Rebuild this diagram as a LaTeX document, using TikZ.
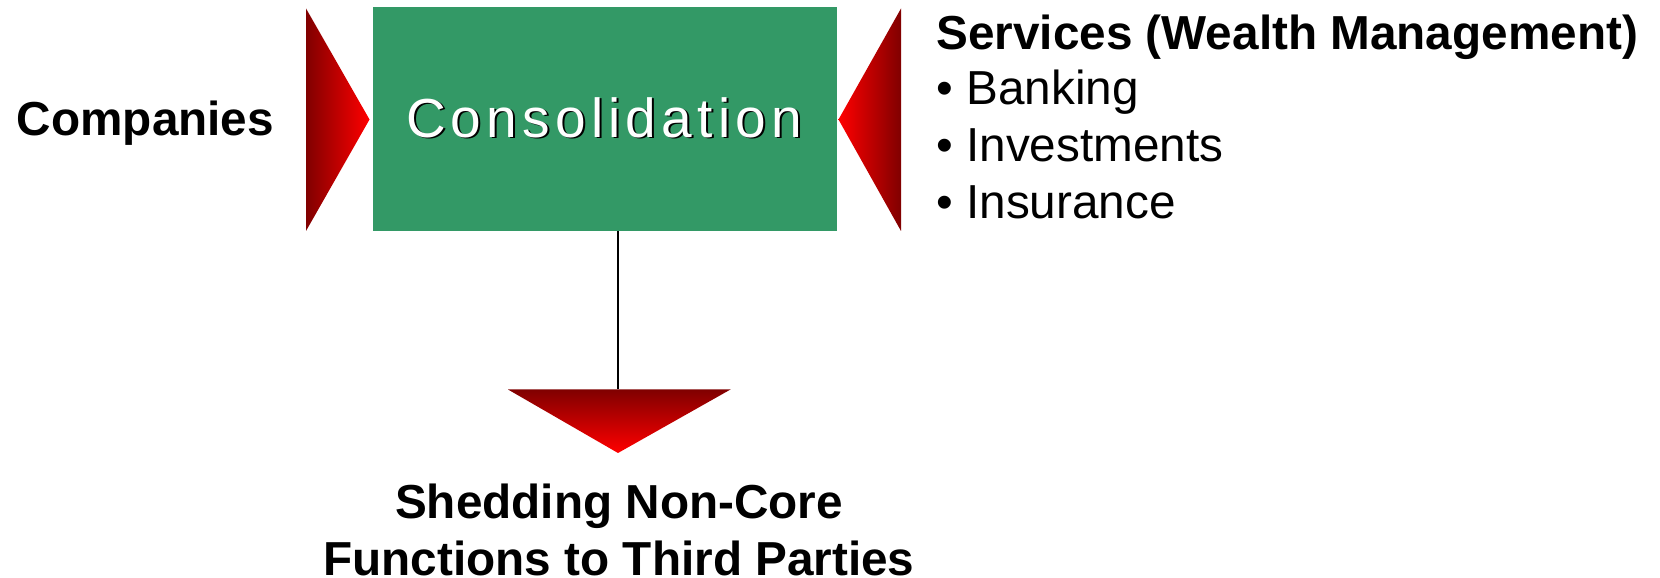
\documentclass[tikz,border=0pt]{standalone}
\usepackage{fontspec}
\setmainfont{Liberation Sans}
\newfontfamily\consfont[LetterSpace=9.5]{Liberation Sans}
\definecolor{boxgreen}{RGB}{51,153,102}
\definecolor{darkred}{RGB}{128,0,0}
\definecolor{brightred}{RGB}{255,0,0}
\begin{document}
\begin{tikzpicture}[x=0.5pt,y=0.5pt,
  lbl/.style={inner sep=0pt, font=\fontsize{23.85pt}{28pt}\selectfont},
  boldlbl/.style={inner sep=0pt, font=\fontsize{23.85pt}{28pt}\selectfont\bfseries},
  constext/.style={inner sep=0pt, anchor=base, font=\consfont\fontsize{27.5pt}{32pt}\selectfont},
  redtri/.style={draw=none}]
\useasboundingbox (0,0) rectangle (1660,578);
% central box
\node[fill=boxgreen, draw=none, inner sep=0pt, minimum width=232.35pt, minimum height=111.8pt] (box) at (605.05,458.8) {};
% triangles
\coordinate (lt1) at (306,569.5);
\coordinate (lt2) at (306,347);
\coordinate (ltip) at (369.5,458.5);
\coordinate (rtip) at (838.5,458.5);
\coordinate (rt1) at (901,569.5);
\coordinate (rt2) at (901,347);
\coordinate (bt1) at (508,188.5);
\coordinate (bt2) at (730.5,188.5);
\coordinate (btip) at (618,125);
\coordinate (btop) at (618,188.5);
\shade[redtri, left color=darkred, right color=brightred] (lt1) -- (ltip) -- (lt2) -- cycle;
\shade[redtri, left color=brightred, right color=darkred] (rtip) -- (rt1) -- (rt2) -- cycle;
\shade[redtri, top color=darkred, bottom color=brightred] (bt1) -- (bt2) -- (btip) -- cycle;
\draw[line width=0.8pt] (box.south -| btop) -- (btop);
% box text with shadow
\node[constext, text=black] (consshadow) at (606,439) {Consolidation};
\node[constext, text=white] (cons) at (604,440.7) {Consolidation};
% labels
\node[boldlbl, anchor=base west] (companies) at (16.5,442) {Companies};
\node[boldlbl, anchor=base west] (services) at (936,528.5) {Services (Wealth Management)};
\node[lbl, anchor=base west] (banking) at (936,473.5) {• Banking};
\node[lbl, anchor=base west] (invest) at (936,416.5) {• Investments};
\node[lbl, anchor=base west] (insur) at (936,359.5) {• Insurance};
\node[boldlbl, anchor=base] (shed1) at (619,59.5) {Shedding Non-Core};
\node[boldlbl, anchor=base] (shed2) at (619,2) {Functions to Third Parties};
\end{tikzpicture}
\end{document}
